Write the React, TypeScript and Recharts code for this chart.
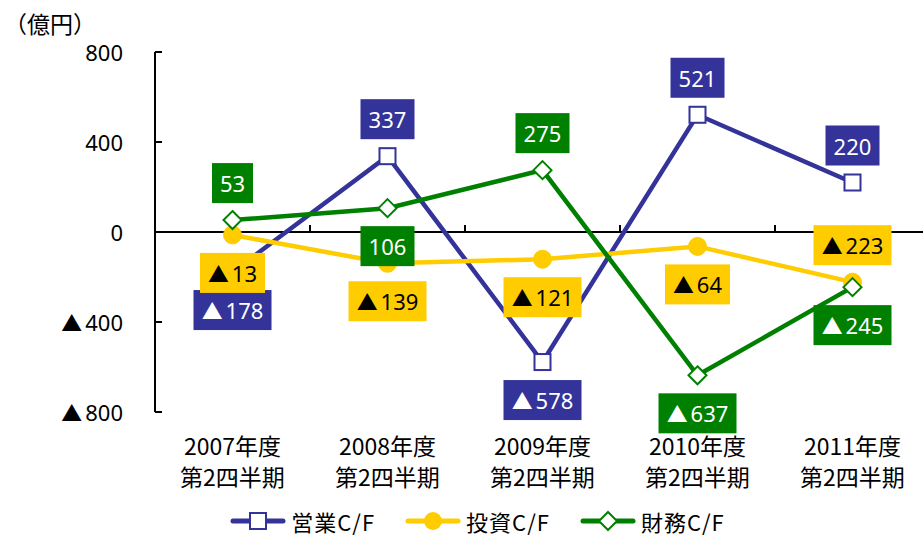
import React from 'react';
import { LineChart, Line, XAxis, YAxis, ReferenceLine, LabelList, Legend } from 'recharts';

const categoryYears = ['2007年度', '2008年度', '2009年度', '2010年度', '2011年度'];
const categoryQuarter = '第2四半期';
const operatingCF = [-178, 337, -578, 521, 220];
const investingCF = [-13, -139, -121, -64, -223];
const financingCF = [53, 106, 275, -637, -245];
const yTicks = [800, 400, 0, -400, -800];
const operatingLabelSide = ['below', 'above', 'below', 'above', 'above'];
const investingLabelSide = ['below', 'below', 'below', 'below', 'above'];
const financingLabelSide = ['above', 'below', 'above', 'below', 'below'];
const seriesNames = ['営業C/F', '投資C/F', '財務C/F'];
const unitLabel = '（億円）';
const NEG_MARK = '▲';

const BLUE = '#333399';
const YELLOW = '#FFCC00';
const GREEN = '#008000';
const NUM_FONT = '"Noto Sans", "DejaVu Sans", sans-serif';
const JP_FONT = '"Noto Sans CJK JP", "Noto Sans", sans-serif';

const data = categoryYears.map((y, i) => ({
  cat: y,
  op: operatingCF[i],
  inv: investingCF[i],
  fin: financingCF[i],
}));

let ctx: CanvasRenderingContext2D | null = null;
const measure = (text: string, size: number, font: string) => {
  if (!ctx) ctx = document.createElement('canvas').getContext('2d');
  if (!ctx) return text.length * size * 0.6;
  ctx.font = `${size}px ${font}`;
  return ctx.measureText(text).width;
};

const MARK_SCALE = 0.95;
const MARK_GAP = 3;

const NumText = ({ value, size, fill, ...rest }: any) => {
  const neg = value < 0;
  const digits = String(Math.abs(value));
  return (
    <text fill={fill} fontSize={size} fontFamily={NUM_FONT} dominantBaseline="central" {...rest}>
      {neg && (
        <tspan fontFamily={JP_FONT} fontSize={size * MARK_SCALE}>
          {NEG_MARK}
        </tspan>
      )}
      <tspan dx={neg ? MARK_GAP : 0}>{digits}</tspan>
    </text>
  );
};

const textWidth = (value: number, size: number) => {
  const neg = value < 0;
  const digits = String(Math.abs(value));
  return measure(digits, size, NUM_FONT) + (neg ? measure(NEG_MARK, size * MARK_SCALE, JP_FONT) + MARK_GAP : 0);
};

const makeLabel = (fill: string, textColor: string, sides: string[]) => (props: any) => {
  const { x, y, value, index } = props;
  if (x == null || y == null) return null;
  const v = Number(value);
  const size = 22;
  const w = Math.round(textWidth(v, size) + 16);
  const h = 40;
  const cy = y + (sides[index] === 'above' ? -37 : 38);
  return (
    <g key={`lbl-${index}`}>
      <rect x={x - w / 2} y={cy - h / 2} width={w} height={h} fill={fill} />
      <NumText value={v} size={size} fill={textColor} x={x} y={cy} textAnchor="middle" />
    </g>
  );
};

const SquareDot = (props: any) => {
  const { cx, cy, index } = props;
  if (cx == null || cy == null) return null;
  return <rect key={`sq-${index}`} x={cx - 8} y={cy - 8} width={16} height={16} fill="#fff" stroke={BLUE} strokeWidth={2} />;
};
const CircleDot = (props: any) => {
  const { cx, cy, index } = props;
  if (cx == null || cy == null) return null;
  return <circle key={`ci-${index}`} cx={cx} cy={cy} r={9} fill={YELLOW} stroke={YELLOW} />;
};
const DiamondDot = (props: any) => {
  const { cx, cy, index } = props;
  if (cx == null || cy == null) return null;
  const r = 9;
  return (
    <path key={`di-${index}`} d={`M${cx},${cy - r}L${cx + r},${cy}L${cx},${cy + r}L${cx - r},${cy}Z`} fill="#fff" stroke={GREEN} strokeWidth={2} />
  );
};

const YTick = (props: any) => {
  const { x, y, payload } = props;
  return (
    <g>
      <line x1={x} x2={x + 7} y1={y} y2={y} stroke="#000" strokeWidth={2} />
      <NumText value={payload.value} size={22} fill="#000" x={x - 32} y={y} textAnchor="end" />
    </g>
  );
};

const XTick = (props: any) => {
  const { x, y, payload } = props;
  return (
    <g>
      <text x={x} y={y + 33} textAnchor="middle" dominantBaseline="central" fontSize={23} fontFamily={JP_FONT} fill="#000">
        {payload.value}
      </text>
      <text x={x} y={y + 64} textAnchor="middle" dominantBaseline="central" fontSize={23} fontFamily={JP_FONT} fill="#000">
        {categoryQuarter}
      </text>
    </g>
  );
};

const ZeroLine = (props: any) => {
  const { x1, x2, y1, y2 } = props;
  const n = categoryYears.length;
  const step = (x2 - x1) / n;
  const ticks = [];
  for (let i = 1; i < n; i++) {
    const tx = x1 + step * i;
    ticks.push(<line key={i} x1={tx} x2={tx} y1={y1} y2={y1 - 7} stroke="#000" strokeWidth={2} />);
  }
  return (
    <g>
      <line x1={x1} x2={x2} y1={y1} y2={y2} stroke="#000" strokeWidth={2} />
      {ticks}
    </g>
  );
};

const LegendIcon = ({ kind }: { kind: number }) => {
  const color = [BLUE, YELLOW, GREEN][kind];
  return (
    <svg width={56} height={22} style={{ display: 'block' }}>
      <line x1={3} x2={53} y1={11} y2={11} stroke={color} strokeWidth={5} strokeLinecap="round" />
      {kind === 0 && <rect x={20} y={3} width={16} height={16} fill="#fff" stroke={BLUE} strokeWidth={2} />}
      {kind === 1 && <circle cx={28} cy={11} r={9} fill={YELLOW} />}
      {kind === 2 && <path d="M28,2L37,11L28,20L19,11Z" fill="#fff" stroke={GREEN} strokeWidth={2} />}
    </svg>
  );
};

const LegendContent = () => (
  <div style={{ display: 'flex', justifyContent: 'center', alignItems: 'center', gap: 30, height: 30, paddingLeft: 32, fontFamily: JP_FONT, fontSize: 22, lineHeight: '26px', color: '#000' }}>
    {seriesNames.map((name, i) => (
      <div key={name} style={{ display: 'flex', alignItems: 'center', gap: 5 }}>
        <LegendIcon kind={i} />
        <span style={{ letterSpacing: 1 }}>{name}</span>
      </div>
    ))}
  </div>
);

export default function App() {
  return (
    <div style={{ position: 'absolute', left: 0, top: 0, width: 923, height: 537, overflow: 'hidden', background: '#fff' }}>
      <div style={{ position: 'absolute', left: 4, top: 7, fontFamily: JP_FONT, fontSize: 23, lineHeight: '33px', color: '#000', zIndex: 2 }}>{unitLabel}</div>
      <LineChart width={940} height={537} data={data} margin={{ top: 52, right: 10, bottom: 65, left: 0 }}>
        <XAxis dataKey="cat" scale="band" axisLine={false} tickLine={false} tickSize={0} tickMargin={0} height={60} tick={<XTick />} interval={0} />
        <YAxis
          width={155}
          domain={[-800, 800]}
          ticks={yTicks}
          allowDataOverflow
          axisLine={{ stroke: '#000', strokeWidth: 2 }}
          tickLine={false}
          tickSize={0}
          tickMargin={0}
          tick={<YTick />}
        />
        <ReferenceLine y={0} shape={<ZeroLine />} />
        <Line dataKey="op" stroke={BLUE} strokeWidth={4.5} dot={<SquareDot />} activeDot={false} isAnimationActive={false} />
        <Line dataKey="inv" stroke={YELLOW} strokeWidth={4.5} dot={<CircleDot />} activeDot={false} isAnimationActive={false} />
        <Line dataKey="fin" stroke={GREEN} strokeWidth={4.5} dot={<DiamondDot />} activeDot={false} isAnimationActive={false} />
        <Line dataKey="op" stroke="none" dot={false} activeDot={false} isAnimationActive={false} legendType="none">
          <LabelList dataKey="op" content={makeLabel(BLUE, '#fff', operatingLabelSide)} />
        </Line>
        <Line dataKey="inv" stroke="none" dot={false} activeDot={false} isAnimationActive={false} legendType="none">
          <LabelList dataKey="inv" content={makeLabel(YELLOW, '#000', investingLabelSide)} />
        </Line>
        <Line dataKey="fin" stroke="none" dot={false} activeDot={false} isAnimationActive={false} legendType="none">
          <LabelList dataKey="fin" content={makeLabel(GREEN, '#fff', financingLabelSide)} />
        </Line>
        <Legend verticalAlign="middle" align="center" layout="horizontal" content={<LegendContent />} wrapperStyle={{ top: 506, left: 0, width: 923, height: 30 }} />
      </LineChart>
    </div>
  );
}
